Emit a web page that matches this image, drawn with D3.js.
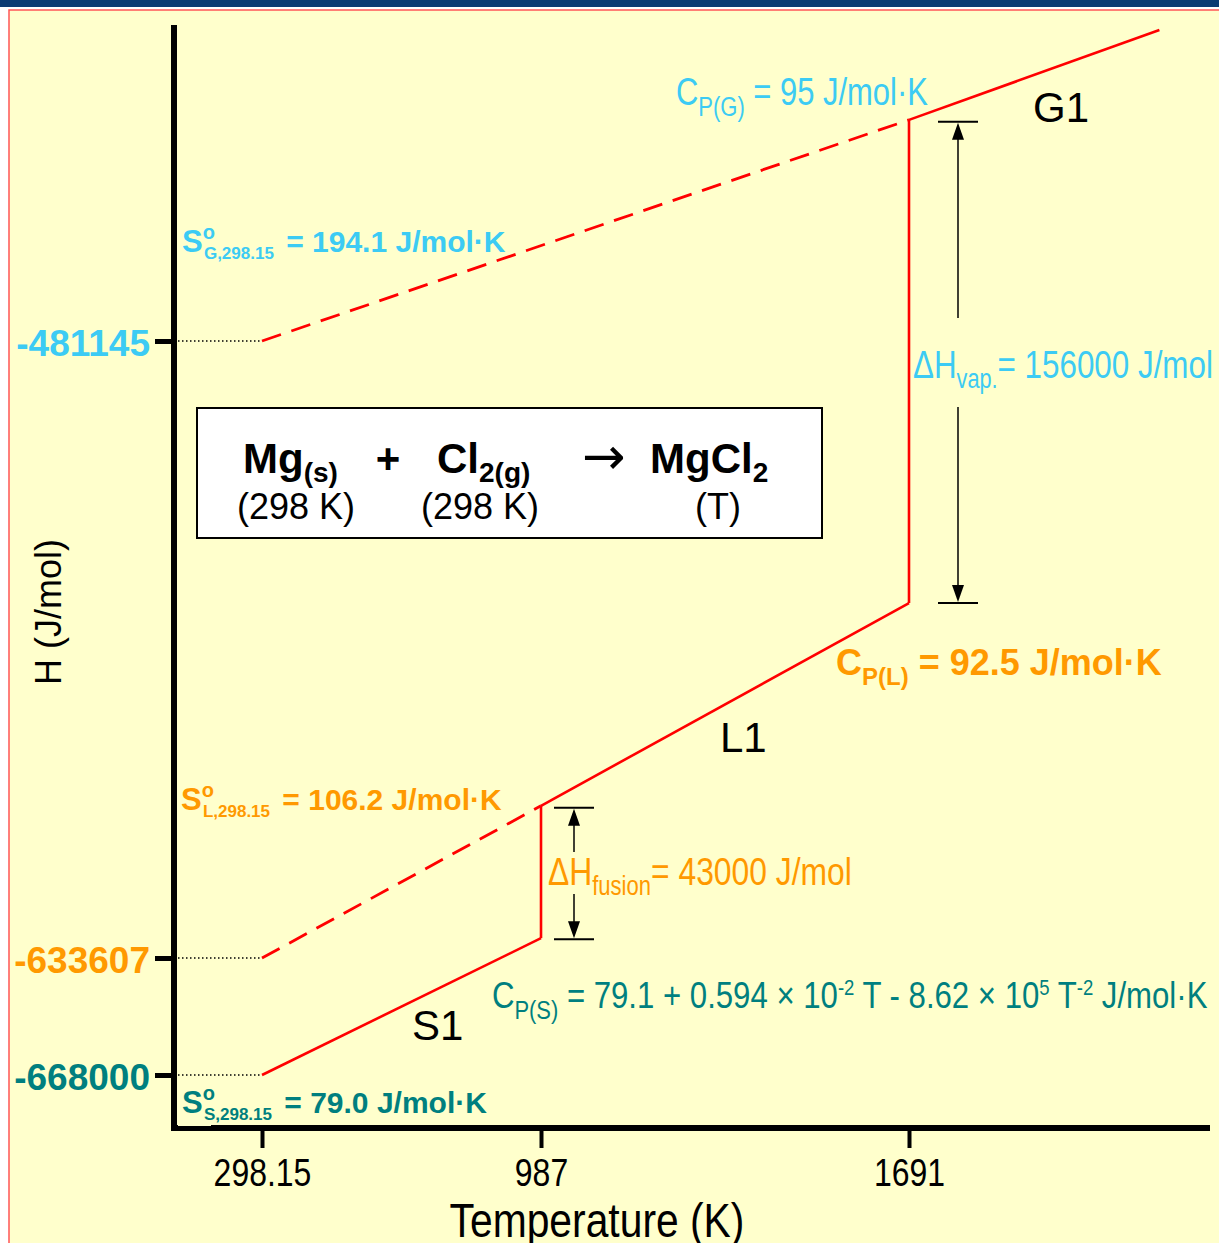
<!doctype html>
<html>
  <head>
    <meta charset="utf-8">
    <style>
      body { margin: 0; background: #fff; }
      text { font-family: "Liberation Sans", Arial, sans-serif; }
    </style>
  </head>
  <body>
    <svg width="1219" height="1243" id="content"></svg>

    <script src="https://cdnjs.cloudflare.com/ajax/libs/d3/7.8.5/d3.min.js"></script>
    <script>
      // temperatures (K) and enthalpy ticks (J/mol), schematic diagram
      const tempTicks = [298.15, 987, 1691]
      const enthalpyTicks = [-668000, -633607, -481145]
      const tickColors = ['#007f7f', '#ff9900', '#3ccbf4']

      // segments: [T, H]
      const solidS1 = [[298.15, -668000], [987, -628700]]
      const fusionJump = [[987, -628700], [987, -596000]]
      const solidL1 = [[987, -596000], [1691, -545900]]
      const vapJump = [[1691, -545900], [1691, -426500]]
      const solidG1 = [[1691, -426500], [2170, -404300]]
      const dashedL = [[298.15, -633607], [987, -596000]]
      const dashedG = [[298.15, -481145], [1691, -426500]]

      const svg = d3.select('#content')
      const LIGHTBLUE = '#3ccbf4'
      const ORANGE = '#ff9900'
      const TEAL = '#007f7f'

      // frame
      svg.append('rect').attr('x', 0).attr('y', 0).attr('width', 1219).attr('height', 7).attr('fill', '#0b3b73')
      svg.append('rect').attr('x', 9).attr('y', 10).attr('width', 1230).attr('height', 1250)
        .attr('fill', '#ffffcc').attr('stroke', '#ff5555').attr('stroke-width', 1.5)

      // scales are not linear: the figure is a sketch, so piecewise
      const x = d3.scaleLinear().domain(tempTicks).range([262, 541, 909])
      const y = d3.scaleLinear().domain(enthalpyTicks).range([1075, 958, 341])

      const line = d3.line().x(d => x(d[0])).y(d => y(d[1]))

      // squeeze a text horizontally (no narrow font installed), keeping its anchor x
      function squeeze (t, s) {
        const x0 = +t.attr('x') || 0
        t.attr('transform', `translate(${x0 * (1 - s)},0) scale(${s},1)`)
      }
      function fitWidth (t, w) {
        squeeze(t, w / t.node().getBBox().width)
      }

      // dotted guides from the axis to the start points
      enthalpyTicks.forEach(h => {
        svg.append('line')
          .attr('x1', 178).attr('x2', x(298.15))
          .attr('y1', y(h)).attr('y2', y(h))
          .attr('stroke', '#000').attr('stroke-width', 1.3)
          .attr('stroke-dasharray', '1.5,2.5')
      })

      // axes
      const yAxis = svg.append('g').attr('transform', 'translate(174,0)')
        .call(d3.axisLeft(y).tickValues(enthalpyTicks).tickSize(19).tickPadding(5).tickFormat(d => d))
      yAxis.select('.domain').remove()
      yAxis.selectAll('.tick line').attr('stroke', '#000').attr('stroke-width', 5)
      yAxis.selectAll('.tick text')
        .attr('fill', (d, i) => tickColors[i])
        .attr('dy', '0.4em')
        .style('font-size', '37px').style('font-weight', 'bold')
        .style('font-family', '"Liberation Sans", Arial, sans-serif')
      svg.append('line').attr('x1', 174).attr('x2', 174).attr('y1', 25).attr('y2', 1131)
        .attr('stroke', '#000').attr('stroke-width', 6)

      const xAxis = svg.append('g').attr('transform', 'translate(0,1128)')
        .call(d3.axisBottom(x).tickValues(tempTicks).tickSize(20).tickPadding(10).tickFormat(d => d))
      xAxis.select('.domain').remove()
      xAxis.selectAll('.tick line').attr('stroke', '#000').attr('stroke-width', 4)
      xAxis.selectAll('.tick text')
        .attr('fill', '#000')
        .style('font-size', '39px')
        .style('font-family', '"Liberation Sans", Arial, sans-serif')
        .each(function () { squeeze(d3.select(this), 0.82) })
      svg.append('line').attr('x1', 171).attr('x2', 1210).attr('y1', 1128).attr('y2', 1128)
        .attr('stroke', '#000').attr('stroke-width', 6)

      // red enthalpy lines
      ;[solidS1, fusionJump, solidL1, vapJump, solidG1].forEach(seg => {
        svg.append('path').attr('d', line(seg)).attr('fill', 'none')
          .attr('stroke', '#ff0000').attr('stroke-width', 2.6)
      })
      ;[dashedL, dashedG].forEach(seg => {
        svg.append('path').attr('d', line(seg)).attr('fill', 'none')
          .attr('stroke', '#ff0000').attr('stroke-width', 2.8)
          .attr('stroke-dasharray', '20,11')
      })

      // rich text helper: parts = [text, size, shift(down px), dx]
      function rich (x0, y0, parts, opts) {
        const t = svg.append('text').attr('x', x0).attr('y', y0)
          .attr('fill', opts.fill || '#000')
          .attr('text-anchor', opts.anchor || 'start')
          .style('font-weight', opts.weight || 'normal')
        let prev = 0
        parts.forEach(p => {
          const shift = p[2] || 0
          const ts = t.append('tspan').text(p[0])
            .style('font-size', `${p[1] || opts.size}px`)
            .attr('dy', shift - prev)
          if (p[3]) ts.attr('dx', p[3])
          prev = shift
        })
        if (opts.width) fitWidth(t, opts.width)
        return t
      }

      // double-headed dimension arrows
      function dimArrow (ax, yTop, yBot, gapTop, gapBot) {
        const g = svg.append('g').attr('stroke', '#000').attr('fill', '#000')
        g.append('line').attr('x1', ax - 20).attr('x2', ax + 20).attr('y1', yTop).attr('y2', yTop).attr('stroke-width', 2)
        g.append('line').attr('x1', ax - 20).attr('x2', ax + 20).attr('y1', yBot).attr('y2', yBot).attr('stroke-width', 2)
        g.append('line').attr('x1', ax).attr('x2', ax).attr('y1', yTop + 10).attr('y2', gapTop).attr('stroke-width', 1.5)
        g.append('line').attr('x1', ax).attr('x2', ax).attr('y1', gapBot).attr('y2', yBot - 10).attr('stroke-width', 1.5)
        g.append('path').attr('stroke', 'none')
          .attr('d', `M${ax},${yTop + 1} L${ax - 6},${yTop + 18} L${ax + 6},${yTop + 18} Z`)
        g.append('path').attr('stroke', 'none')
          .attr('d', `M${ax},${yBot - 1} L${ax - 6},${yBot - 18} L${ax + 6},${yBot - 18} Z`)
      }
      dimArrow(x(1691) + 49, y(-426500) + 2, y(-545900), 318, 407)
      dimArrow(x(987) + 33, y(-596000) + 2, y(-628700) + 1, 852, 894)

      // entropy labels: S, raised o, subscript tucked under the o
      function entropyLabel (x0, y0, phase, value, fill) {
        return rich(x0, y0, [['S', 31], ['o', 20, -13], [`${phase},298.15`, 17, 7, -11], [` = ${value} J/mol·K`, 30, 0, 4]],
          { fill, weight: 'bold', size: 30 })
      }

      // annotations
      rich(676, 105, [['C'], ['P(G)', 27, 11], [' = 95 J/mol·K', null, 0]], { fill: LIGHTBLUE, size: 38, width: 252 })
      rich(1033, 122, [['G1']], { size: 42 })
      entropyLabel(182, 252, 'G', '194.1', LIGHTBLUE)
      rich(913, 378, [['ΔH'], ['vap.', 27, 10], ['= 156000 J/mol', null, 0]], { fill: LIGHTBLUE, size: 39, width: 300 })
      rich(836, 675, [['C'], ['P(L)', 24, 10], [' = 92.5 J/mol·K', null, 0]], { fill: ORANGE, weight: 'bold', size: 36 })
      rich(720, 752, [['L1']], { size: 42 })
      entropyLabel(181, 810, 'L', '106.2', ORANGE)
      rich(548, 885, [['ΔH'], ['fusion', 27, 10], ['= 43000 J/mol', null, 0]], { fill: ORANGE, size: 39, width: 304 })
      rich(492, 1008, [['C'], ['P(S)', 26, 11], [' = 79.1 + 0.594 × 10', null, 0], ['-2', 22, -13], [' T - 8.62 × 10', null, 0], ['5', 22, -13], [' T', null, 0], ['-2', 22, -13], [' J/mol·K', null, 0]],
        { fill: TEAL, size: 37, width: 716 })
      rich(412, 1040, [['S1']], { size: 42 })

      // yellow patch behind the solid entropy label (it hides the axis corner)
      svg.append('rect').attr('x', 178).attr('y', 1084).attr('width', 33).attr('height', 42).attr('fill', '#ffffcc')
      entropyLabel(182, 1113, 'S', '79.0', TEAL)

      // reaction box
      svg.append('rect').attr('x', 197).attr('y', 408).attr('width', 625).attr('height', 130)
        .attr('fill', '#fff').attr('stroke', '#000').attr('stroke-width', 2)
      rich(243, 473, [['Mg'], ['(s)', 28, 9]], { weight: 'bold', size: 42 })
      rich(388, 473, [['+']], { weight: 'bold', size: 42, anchor: 'middle' })
      rich(437, 473, [['Cl'], ['2(g)', 28, 9]], { weight: 'bold', size: 42 })
      svg.append('text').attr('x', 582).attr('y', 474)
        .style('font-family', '"DejaVu Sans", sans-serif').style('font-size', '52px').text('→')
      rich(650, 473, [['MgCl'], ['2', 28, 9]], { weight: 'bold', size: 42 })
      rich(296, 519, [['(298 K)']], { size: 36, anchor: 'middle' })
      rich(480, 519, [['(298 K)']], { size: 36, anchor: 'middle' })
      rich(718, 519, [['(T)']], { size: 36, anchor: 'middle' })

      // axis titles
      const title = svg.append('text')
        .attr('x', 597).attr('y', 1237).attr('text-anchor', 'middle')
        .style('font-size', '48px').text('Temperature (K)')
      fitWidth(title, 295)
      svg.append('text')
        .attr('transform', 'translate(61,612) rotate(-90)').attr('text-anchor', 'middle')
        .style('font-size', '36px').text('H (J/mol)')
    </script>
  </body>
</html>
